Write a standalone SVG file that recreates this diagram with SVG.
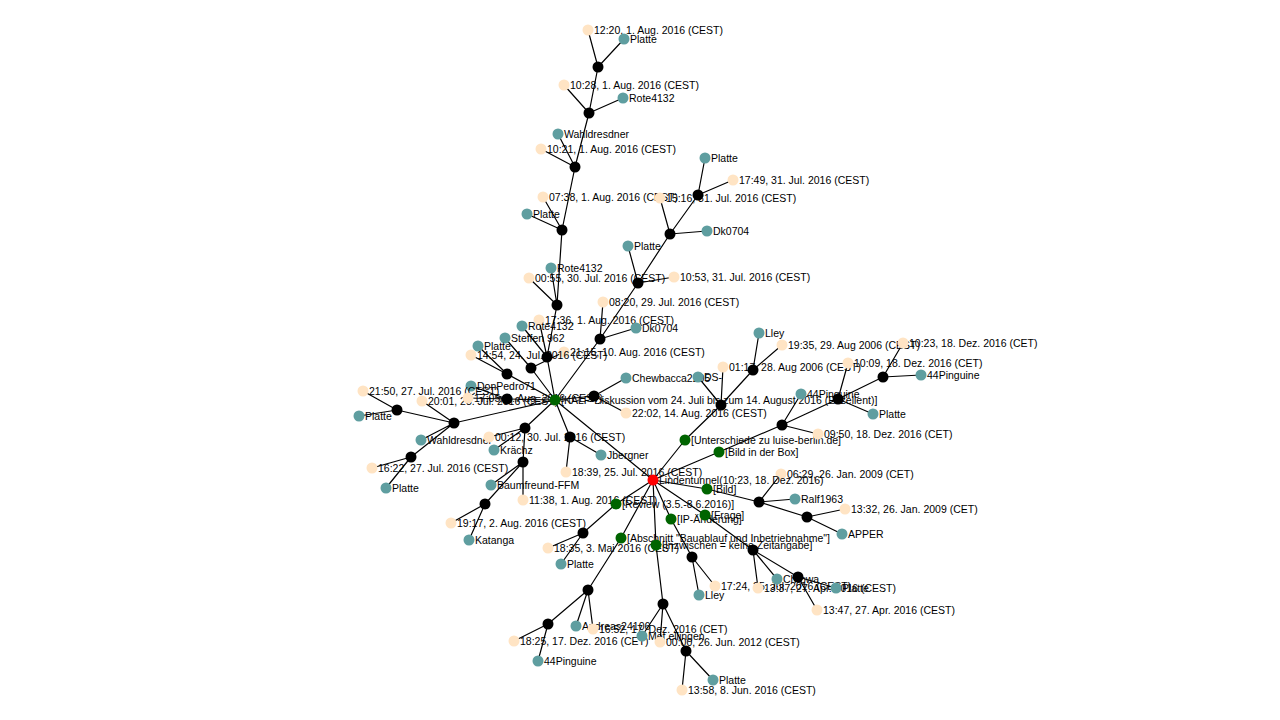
<svg xmlns="http://www.w3.org/2000/svg" width="1280" height="720" viewBox="0 0 1280 720">
<style>
.e{stroke:#000;stroke-width:1.2;fill:none}
.b{fill:#000}
.t{fill:#5f9ea0}
.p{fill:#ffe4c4}
.g{fill:#006400}
.r{fill:#ff0000}
text{font-family:"Liberation Sans",Arial,sans-serif;font-size:10.5px;fill:#000}
</style>
<rect width="1280" height="720" fill="#fff"/>
<g id="edges">
<path class="e" d="M598,67L588,30M598,67L624,39M598,67L589,113
M589,113L564,85M589,113L623,98M589,113L575,167
M575,167L558,134M575,167L541,149M575,167L562,230
M562,230L543,197M562,230L527,214M562,230L557,305
M557,305L551,268M557,305L529,278M557,305L547,357
M547,357L539,320M547,357L522,326M547,357L555,400
M531,368L505,338M531,368L564,352M531,368L555,400
M507,374L478,346M507,374L471,355M507,374L555,400
M507,399L471,386M507,399L468,398M507,399L555,400
M397,410L363,391M397,410L359,416M397,410L454,423
M454,423L422,401M454,423L421,440M454,423L411,457M454,423L555,400
M411,457L372,468M411,457L386,488
M525,428L489,437M525,428L494,450M525,428L523,462M525,428L555,400
M523,462L491,485M523,462L523,500M523,462L485,504
M485,504L451,523M485,504L469,540
M570,437L601,455M570,437L566,472M570,437L555,400
M594,396L626,378M594,396L626,413M594,396L555,400
M600,339L636,328M600,339L603,302M600,339L638,283M600,339L555,400
M638,283L628,246M638,283L674,277M638,283L670,234
M670,234L707,231M670,234L660,198M670,234L698,195
M698,195L705,158M698,195L733,180
M555,400L653,480
M653,480L685,440M685,440L721,405
M721,405L698,377M721,405L723,367M721,405L753,370
M753,370L759,333M753,370L782,345
M653,480L719,452M719,452L782,425
M782,425L801,394M782,425L818,434M782,425L838,399
M838,399L848,363M838,399L873,414M838,399L883,377
M883,377L903,343M883,377L921,375
M653,480L707,489M707,489L759,502
M759,502L781,474M759,502L795,499M759,502L807,517
M807,517L845,509M807,517L842,534
M653,480L705,515M705,515L753,550
M753,550L777,579M753,550L758,588M753,550L798,577
M798,577L836,588M798,577L817,610
M653,480L671,519M671,519L692,557
M692,557L699,595M692,557L715,586
M653,480L616,504M616,504L583,533
M583,533L548,548M583,533L561,564
M653,480L621,538M621,538L588,590
M588,590L576,626M588,590L593,629M588,590L548,624
M548,624L514,641M548,624L538,661
M653,480L656,545M656,545L663,604
M663,604L642,636M663,604L660,642M663,604L686,651
M686,651L713,680M686,651L682,690"/>
</g>
<g id="n1"><circle class="p" cx="588" cy="30" r="5.5"/><text x="594" y="34">12:20, 1. Aug. 2016 (CEST)</text></g>
<g id="n2"><circle class="t" cx="624" cy="39" r="5.5"/><text x="630" y="43">Platte</text></g>
<g id="b1"><circle class="b" cx="598" cy="67" r="5.5"/></g>
<g id="n3"><circle class="p" cx="564" cy="85" r="5.5"/><text x="570" y="89">10:28, 1. Aug. 2016 (CEST)</text></g>
<g id="n4"><circle class="t" cx="623" cy="98" r="5.5"/><text x="629" y="102">Rote4132</text></g>
<g id="b2"><circle class="b" cx="589" cy="113" r="5.5"/></g>
<g id="n5"><circle class="t" cx="558" cy="134" r="5.5"/><text x="564" y="138">Wahldresdner</text></g>
<g id="n6"><circle class="p" cx="541" cy="149" r="5.5"/><text x="547" y="153">10:21, 1. Aug. 2016 (CEST)</text></g>
<g id="b3"><circle class="b" cx="575" cy="167" r="5.5"/></g>
<g id="n7"><circle class="p" cx="543" cy="197" r="5.5"/><text x="549" y="201">07:38, 1. Aug. 2016 (CEST)</text></g>
<g id="n8"><circle class="t" cx="527" cy="214" r="5.5"/><text x="533" y="218">Platte</text></g>
<g id="b4"><circle class="b" cx="562" cy="230" r="5.5"/></g>
<g id="n9"><circle class="t" cx="551" cy="268" r="5.5"/><text x="557" y="272">Rote4132</text></g>
<g id="n10"><circle class="p" cx="529" cy="278" r="5.5"/><text x="535" y="282">00:55, 30. Jul. 2016 (CEST)</text></g>
<g id="b5"><circle class="b" cx="557" cy="305" r="5.5"/></g>
<g id="n11"><circle class="p" cx="539" cy="320" r="5.5"/><text x="545" y="324">17:36, 1. Aug. 2016 (CEST)</text></g>
<g id="n12"><circle class="t" cx="522" cy="326" r="5.5"/><text x="528" y="330">Rote4132</text></g>
<g id="n13"><circle class="t" cx="505" cy="338" r="5.5"/><text x="511" y="342">Steffen 962</text></g>
<g id="n14"><circle class="p" cx="564" cy="352" r="5.5"/><text x="570" y="356">21:15, 10. Aug. 2016 (CEST)</text></g>
<g id="n15"><circle class="t" cx="478" cy="346" r="5.5"/><text x="484" y="350">Platte</text></g>
<g id="n16"><circle class="p" cx="471" cy="355" r="5.5"/><text x="477" y="359">14:54, 24. Jul. 2016 (CEST)</text></g>
<g id="b6"><circle class="b" cx="547" cy="357" r="5.5"/></g>
<g id="b7"><circle class="b" cx="531" cy="368" r="5.5"/></g>
<g id="b8"><circle class="b" cx="507" cy="374" r="5.5"/></g>
<g id="n17"><circle class="t" cx="471" cy="386" r="5.5"/><text x="477" y="390">DonPedro71</text></g>
<g id="n19"><circle class="p" cx="363" cy="391" r="5.5"/><text x="369" y="395">21:50, 27. Jul. 2016 (CEST)</text></g>
<g id="n21"><circle class="p" cx="422" cy="401" r="5.5"/><text x="428" y="405">20:01, 28. Jul. 2016 (CEST)</text></g>
<g id="n18"><circle class="p" cx="468" cy="398" r="5.5"/><text x="474" y="402">17:05, 1. Aug. 2016 (CEST)</text></g>
<g id="b9"><circle class="b" cx="507" cy="399" r="5.5"/></g>
<g id="n20"><circle class="t" cx="359" cy="416" r="5.5"/><text x="365" y="420">Platte</text></g>
<g id="b10"><circle class="b" cx="397" cy="410" r="5.5"/></g>
<g id="n22"><circle class="t" cx="421" cy="440" r="5.5"/><text x="427" y="444">Wahldresdner</text></g>
<g id="b11"><circle class="b" cx="454" cy="423" r="5.5"/></g>
<g id="n23"><circle class="p" cx="372" cy="468" r="5.5"/><text x="378" y="472">16:22, 27. Jul. 2016 (CEST)</text></g>
<g id="n24"><circle class="t" cx="386" cy="488" r="5.5"/><text x="392" y="492">Platte</text></g>
<g id="b12"><circle class="b" cx="411" cy="457" r="5.5"/></g>
<g id="n25"><circle class="p" cx="489" cy="437" r="5.5"/><text x="495" y="441">00:12, 30. Jul. 2016 (CEST)</text></g>
<g id="n26"><circle class="t" cx="494" cy="450" r="5.5"/><text x="500" y="454">Krächz</text></g>
<g id="b13"><circle class="b" cx="525" cy="428" r="5.5"/></g>
<g id="n27"><circle class="t" cx="491" cy="485" r="5.5"/><text x="497" y="489">Baumfreund-FFM</text></g>
<g id="n28"><circle class="p" cx="523" cy="500" r="5.5"/><text x="529" y="504">11:38, 1. Aug. 2016 (CEST)</text></g>
<g id="b14"><circle class="b" cx="523" cy="462" r="5.5"/></g>
<g id="n29"><circle class="p" cx="451" cy="523" r="5.5"/><text x="457" y="527">19:17, 2. Aug. 2016 (CEST)</text></g>
<g id="n30"><circle class="t" cx="469" cy="540" r="5.5"/><text x="475" y="544">Katanga</text></g>
<g id="b15"><circle class="b" cx="485" cy="504" r="5.5"/></g>
<g id="n31"><circle class="t" cx="601" cy="455" r="5.5"/><text x="607" y="459">Jbergner</text></g>
<g id="n32"><circle class="p" cx="566" cy="472" r="5.5"/><text x="572" y="476">18:39, 25. Jul. 2016 (CEST)</text></g>
<g id="b16"><circle class="b" cx="570" cy="437" r="5.5"/></g>
<g id="n33"><circle class="t" cx="626" cy="378" r="5.5"/><text x="632" y="382">Chewbacca2205</text></g>
<g id="n34"><circle class="p" cx="626" cy="413" r="5.5"/><text x="632" y="417">22:02, 14. Aug. 2016 (CEST)</text></g>
<g id="G"><circle class="g" cx="555" cy="400" r="5.5"/><text x="561" y="404">[KALP-Diskussion vom 24. Juli bis zum 14. August 2016 (Exzellent)]</text></g>
<g id="b17"><circle class="b" cx="594" cy="396" r="5.5"/></g>
<g id="n35"><circle class="t" cx="636" cy="328" r="5.5"/><text x="642" y="332">Dk0704</text></g>
<g id="n36"><circle class="p" cx="603" cy="302" r="5.5"/><text x="609" y="306">08:20, 29. Jul. 2016 (CEST)</text></g>
<g id="b18"><circle class="b" cx="600" cy="339" r="5.5"/></g>
<g id="n37"><circle class="t" cx="628" cy="246" r="5.5"/><text x="634" y="250">Platte</text></g>
<g id="n38"><circle class="p" cx="674" cy="277" r="5.5"/><text x="680" y="281">10:53, 31. Jul. 2016 (CEST)</text></g>
<g id="b19"><circle class="b" cx="638" cy="283" r="5.5"/></g>
<g id="n39"><circle class="t" cx="707" cy="231" r="5.5"/><text x="713" y="235">Dk0704</text></g>
<g id="n40"><circle class="p" cx="660" cy="198" r="5.5"/><text x="666" y="202">15:16, 31. Jul. 2016 (CEST)</text></g>
<g id="b20"><circle class="b" cx="670" cy="234" r="5.5"/></g>
<g id="n41"><circle class="t" cx="705" cy="158" r="5.5"/><text x="711" y="162">Platte</text></g>
<g id="n42"><circle class="p" cx="733" cy="180" r="5.5"/><text x="739" y="184">17:49, 31. Jul. 2016 (CEST)</text></g>
<g id="b21"><circle class="b" cx="698" cy="195" r="5.5"/></g>
<g id="n43"><circle class="t" cx="698" cy="377" r="5.5"/><text x="704" y="381">DS-</text></g>
<g id="n44"><circle class="p" cx="723" cy="367" r="5.5"/><text x="729" y="371">01:17, 28. Aug 2006 (CEST)</text></g>
<g id="b22"><circle class="b" cx="721" cy="405" r="5.5"/></g>
<g id="n45"><circle class="t" cx="759" cy="333" r="5.5"/><text x="765" y="337">Lley</text></g>
<g id="n46"><circle class="p" cx="782" cy="345" r="5.5"/><text x="788" y="349">19:35, 29. Aug 2006 (CEST)</text></g>
<g id="b23"><circle class="b" cx="753" cy="370" r="5.5"/></g>
<g id="g1"><circle class="g" cx="685" cy="440" r="5.5"/><text x="691" y="444">[Unterschiede zu luise-berlin.de]</text></g>
<g id="g2"><circle class="g" cx="719" cy="452" r="5.5"/><text x="725" y="456">[Bild in der Box]</text></g>
<g id="n47"><circle class="t" cx="801" cy="394" r="5.5"/><text x="807" y="398">44Pinguine</text></g>
<g id="n48"><circle class="p" cx="818" cy="434" r="5.5"/><text x="824" y="438">09:50, 18. Dez. 2016 (CET)</text></g>
<g id="b24"><circle class="b" cx="782" cy="425" r="5.5"/></g>
<g id="n49"><circle class="p" cx="848" cy="363" r="5.5"/><text x="854" y="367">10:09, 18. Dez. 2016 (CET)</text></g>
<g id="n50"><circle class="t" cx="873" cy="414" r="5.5"/><text x="879" y="418">Platte</text></g>
<g id="b25"><circle class="b" cx="838" cy="399" r="5.5"/></g>
<g id="n51"><circle class="p" cx="903" cy="343" r="5.5"/><text x="909" y="347">10:23, 18. Dez. 2016 (CET)</text></g>
<g id="n52"><circle class="t" cx="921" cy="375" r="5.5"/><text x="927" y="379">44Pinguine</text></g>
<g id="b26"><circle class="b" cx="883" cy="377" r="5.5"/></g>
<g id="n53"><circle class="p" cx="781" cy="474" r="5.5"/><text x="787" y="478">06:29, 26. Jan. 2009 (CET)</text></g>
<g id="R"><circle class="r" cx="653" cy="480" r="5.5"/><text x="659" y="484">Lindentunnel(10:23, 18. Dez. 2016)</text></g>
<g id="g3"><circle class="g" cx="707" cy="489" r="5.5"/><text x="713" y="493">[Bild]</text></g>
<g id="n54"><circle class="t" cx="795" cy="499" r="5.5"/><text x="801" y="503">Ralf1963</text></g>
<g id="b27"><circle class="b" cx="759" cy="502" r="5.5"/></g>
<g id="n55"><circle class="p" cx="845" cy="509" r="5.5"/><text x="851" y="513">13:32, 26. Jan. 2009 (CET)</text></g>
<g id="n56"><circle class="t" cx="842" cy="534" r="5.5"/><text x="848" y="538">APPER</text></g>
<g id="b28"><circle class="b" cx="807" cy="517" r="5.5"/></g>
<g id="g6"><circle class="g" cx="616" cy="504" r="5.5"/><text x="622" y="508">[Review (3.5.-8.6.2016)]</text></g>
<g id="g5"><circle class="g" cx="671" cy="519" r="5.5"/><text x="677" y="523">[IP-Änderung]</text></g>
<g id="g4"><circle class="g" cx="705" cy="515" r="5.5"/><text x="711" y="519">[Frage]</text></g>
<g id="n63"><circle class="p" cx="548" cy="548" r="5.5"/><text x="554" y="552">18:35, 3. Mai 2016 (CEST)</text></g>
<g id="n64"><circle class="t" cx="561" cy="564" r="5.5"/><text x="567" y="568">Platte</text></g>
<g id="b32"><circle class="b" cx="583" cy="533" r="5.5"/></g>
<g id="g7"><circle class="g" cx="621" cy="538" r="5.5"/><text x="627" y="542">[Abschnitt "Bauablauf und Inbetriebnahme"]</text></g>
<g id="g8"><circle class="g" cx="656" cy="545" r="5.5"/><text x="662" y="549">[Inzwischen = keine Zeitangabe]</text></g>
<g id="n62"><circle class="p" cx="715" cy="586" r="5.5"/><text x="721" y="590">17:24, 25. Jul. 2016 (CEST)</text></g>
<g id="n61"><circle class="t" cx="699" cy="595" r="5.5"/><text x="705" y="599">Lley</text></g>
<g id="b31"><circle class="b" cx="692" cy="557" r="5.5"/></g>
<g id="n58"><circle class="p" cx="758" cy="588" r="5.5"/><text x="764" y="592">13:37, 27. Apr. 2016 (CEST)</text></g>
<g id="n57"><circle class="t" cx="777" cy="579" r="5.5"/><text x="783" y="583">Chrowa</text></g>
<g id="b29"><circle class="b" cx="753" cy="550" r="5.5"/></g>
<g id="n59"><circle class="t" cx="836" cy="588" r="5.5"/><text x="842" y="592">Platte</text></g>
<g id="n60"><circle class="p" cx="817" cy="610" r="5.5"/><text x="823" y="614">13:47, 27. Apr. 2016 (CEST)</text></g>
<g id="b30"><circle class="b" cx="798" cy="577" r="5.5"/></g>
<g id="n65"><circle class="t" cx="576" cy="626" r="5.5"/><text x="582" y="630">Andreas24106</text></g>
<g id="n66"><circle class="p" cx="593" cy="629" r="5.5"/><text x="599" y="633">16:52, 17. Dez. 2016 (CET)</text></g>
<g id="b33"><circle class="b" cx="588" cy="590" r="5.5"/></g>
<g id="n67"><circle class="p" cx="514" cy="641" r="5.5"/><text x="520" y="645">18:25, 17. Dez. 2016 (CET)</text></g>
<g id="n68"><circle class="t" cx="538" cy="661" r="5.5"/><text x="544" y="665">44Pinguine</text></g>
<g id="b34"><circle class="b" cx="548" cy="624" r="5.5"/></g>
<g id="n69"><circle class="t" cx="642" cy="636" r="5.5"/><text x="648" y="640">Mef.ellingen</text></g>
<g id="n70"><circle class="p" cx="660" cy="642" r="5.5"/><text x="666" y="646">00:00, 26. Jun. 2012 (CEST)</text></g>
<g id="b35"><circle class="b" cx="663" cy="604" r="5.5"/></g>
<g id="n71"><circle class="t" cx="713" cy="680" r="5.5"/><text x="719" y="684">Platte</text></g>
<g id="n72"><circle class="p" cx="682" cy="690" r="5.5"/><text x="688" y="694">13:58, 8. Jun. 2016 (CEST)</text></g>
<g id="b36"><circle class="b" cx="686" cy="651" r="5.5"/></g>
</svg>
